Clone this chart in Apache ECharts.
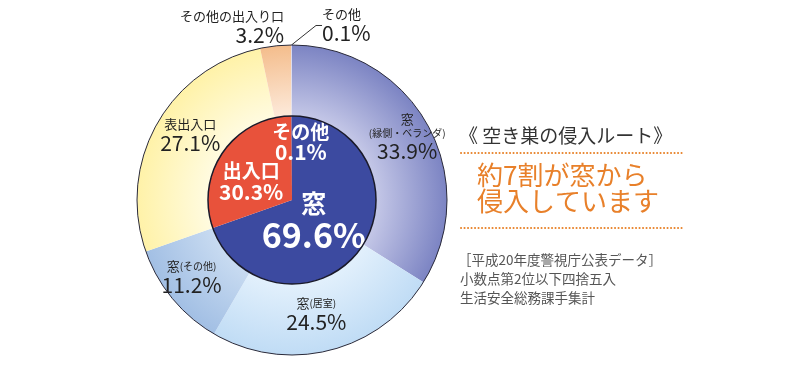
<!DOCTYPE html>
<html>
<head>
<meta charset="utf-8">
<script src="https://cdn.jsdelivr.net/npm/echarts@6/dist/echarts.min.js"></script>
<style>
  html, body { margin: 0; padding: 0; background: #fff; }
  #chart { width: 800px; height: 376px; }
</style>
</head>
<body>
<div id="chart"></div>
<script>
// inner ring: main route
let innerNames = ['窓', '出入口', 'その他'];
let innerValues = [69.6, 30.3, 0.1];

// outer ring: detail
let outerNames = ['窓(縁側・ベランダ)', '窓(居室)', '窓(その他)', '表出入口', 'その他の出入り口', 'その他'];
let outerValues = [33.9, 24.5, 11.2, 27.1, 3.2, 0.1];

let noteLines = ['［平成20年度警視庁公表データ］', '小数点第2位以下四捨五入', '生活安全総務課手集計'];

let font = '"Noto Sans CJK JP", "Noto Sans", sans-serif';
let cx = 292, cy = 200;
let rIn = 84, rOut = 155;

function radial(inner, outer)
{
    return new echarts.graphic.RadialGradient(cx, cy, rOut, [
        {offset: rIn / rOut, color: inner},
        {offset: 1, color: outer}
    ], true);
}

let outerColours = [
    radial('#c4c7e7', '#7c84c3'),
    radial('#e2f0fc', '#c0dcf5'),
    radial('#c8dbf1', '#a2bfe4'),
    radial('#fffbe0', '#fff2a8'),
    radial('#fdeadb', '#f4bd8c'),
    '#d8d8ec'
];
let innerColours = ['#3c4aa0', '#e8523b', '#3c4aa0'];

function outerLabel(name, value)
{
    let v = value.toFixed(1) + '%';
    let m = name.match(/^(.+?)(\(.+\))$/);
    if (m) {
        if (m[2].length > 5) {
            return '{c|' + m[1] + '}\n{s|' + m[2] + '}\n{v|' + v + '}';
        }
        return '{c|' + m[1] + '}{s|' + m[2] + '}\n{v|' + v + '}';
    }
    return '{c|' + name + '}\n{v|' + v + '}';
}

let outerData = [];
for (let [i, name] of outerNames.entries())
{
    let entry = {
        name: name,
        value: outerValues[i],
        itemStyle: {color: outerColours[i]}
    };
    if (i >= 4) {
        entry.label = {position: 'outside'};
        entry.labelLine = {show: i == 5, length: 12, length2: 6, lineStyle: {color: '#333', width: 1}};
    }
    outerData.push(entry);
}

let innerData = [];
for (let [i, name] of innerNames.entries())
{
    innerData.push({name: name, value: innerValues[i], itemStyle: {color: innerColours[i]}});
}

let chart = echarts.init(document.getElementById('chart'));

let option = {
    backgroundColor: '#fff',
    animation: false,
    series: [
        {
            name: '詳細',
            type: 'pie',
            center: [cx, cy],
            radius: [rIn, rOut],
            startAngle: 90,
            clockwise: true,
            avoidLabelOverlap: false,
            silent: true,
            label: {
                show: true,
                position: 'inside',
                fontFamily: font,
                color: '#222',
                formatter: function (p) { return outerLabel(p.name, p.value); },
                rich: {
                    c: {fontSize: 13, color: '#222', fontFamily: font, lineHeight: 16},
                    s: {fontSize: 10, color: '#222', fontFamily: font, lineHeight: 13},
                    v: {fontSize: 21, color: '#222', fontFamily: font, lineHeight: 22}
                }
            },
            labelLayout: function (p) {
                if (p.dataIndex == 4) {
                    return {x: 284, y: 27, align: 'right', verticalAlign: 'middle'};
                }
                if (p.dataIndex == 5) {
                    return {x: 322, y: 25, align: 'left', verticalAlign: 'middle'};
                }
                if (p.dataIndex == 0) return {dx: 8, dy: -4};
                if (p.dataIndex == 1) return {dx: -5, dy: -5};
                if (p.dataIndex == 2) return {dx: -6, dy: -1};
                if (p.dataIndex == 3) return {dx: 5, dy: -5};
                return {};
            },
            data: outerData
        },
        {
            name: '侵入ルート',
            type: 'pie',
            center: [cx, cy],
            radius: [0, rIn],
            startAngle: 90,
            clockwise: true,
            avoidLabelOverlap: false,
            silent: true,
            label: {
                show: true,
                position: 'inside',
                fontFamily: font,
                formatter: function (p) {
                    let v = p.value.toFixed(1) + '%';
                    if (p.dataIndex == 0) return '{big|' + p.name + '}\n{huge|' + v + '}';
                    return '{w|' + p.name + '}\n{wv|' + v + '}';
                },
                rich: {
                    w: {fontSize: 19, fontWeight: 'bold', color: '#fff', fontFamily: font, lineHeight: 21},
                    wv: {fontSize: 21, fontWeight: 'bold', color: '#fff', fontFamily: font, lineHeight: 21},
                    big: {fontSize: 25, fontWeight: 'bold', color: '#fff', fontFamily: font, lineHeight: 28},
                    huge: {fontSize: 34, fontWeight: 'bold', color: '#fff', fontFamily: font, lineHeight: 34}
                }
            },
            labelLayout: function (p) {
                if (p.dataIndex == 0) return {dx: -15, dy: -5};
                if (p.dataIndex == 1) return {dx: -4, dy: 7};
                if (p.dataIndex == 2) return {dx: 9, dy: -13};
                return {};
            },
            data: innerData
        }
    ],
    graphic: [
        {type: 'circle', z: 100, silent: true, shape: {cx: cx, cy: cy, r: rOut}, style: {fill: null, stroke: '#2a2a3a', lineWidth: 1}},
        {type: 'circle', z: 100, silent: true, shape: {cx: cx, cy: cy, r: rIn}, style: {fill: null, stroke: '#1a1a2a', lineWidth: 1.5}},
        {type: 'text', z: 100, left: 459, top: 126, style: {text: '《 空き巣の侵入ルート》', font: '19px ' + font, fill: '#333'}},
        {type: 'line', z: 100, shape: {x1: 461, y1: 153, x2: 682, y2: 153}, style: {stroke: '#e8842c', lineWidth: 2, lineDash: [0.1, 3.4], lineCap: 'round'}},
        {type: 'text', z: 100, left: 477, top: 162, style: {text: '約7割が窓から', font: '26px ' + font, fill: '#e8802a'}},
        {type: 'text', z: 100, left: 477, top: 188, style: {text: '侵入しています', font: '26px ' + font, fill: '#e8802a'}},
        {type: 'line', z: 100, shape: {x1: 461, y1: 228, x2: 682, y2: 228}, style: {stroke: '#e8842c', lineWidth: 2, lineDash: [0.1, 3.4], lineCap: 'round'}},
        {type: 'text', z: 100, left: 458, top: 253, style: {text: noteLines[0], font: '13.5px ' + font, fill: '#555'}},
        {type: 'text', z: 100, left: 460, top: 272, style: {text: noteLines[1], font: '13.5px ' + font, fill: '#555'}},
        {type: 'text', z: 100, left: 460, top: 291, style: {text: noteLines[2], font: '13.5px ' + font, fill: '#555'}}
    ]
};

chart.setOption(option);
</script>
</body>
</html>
